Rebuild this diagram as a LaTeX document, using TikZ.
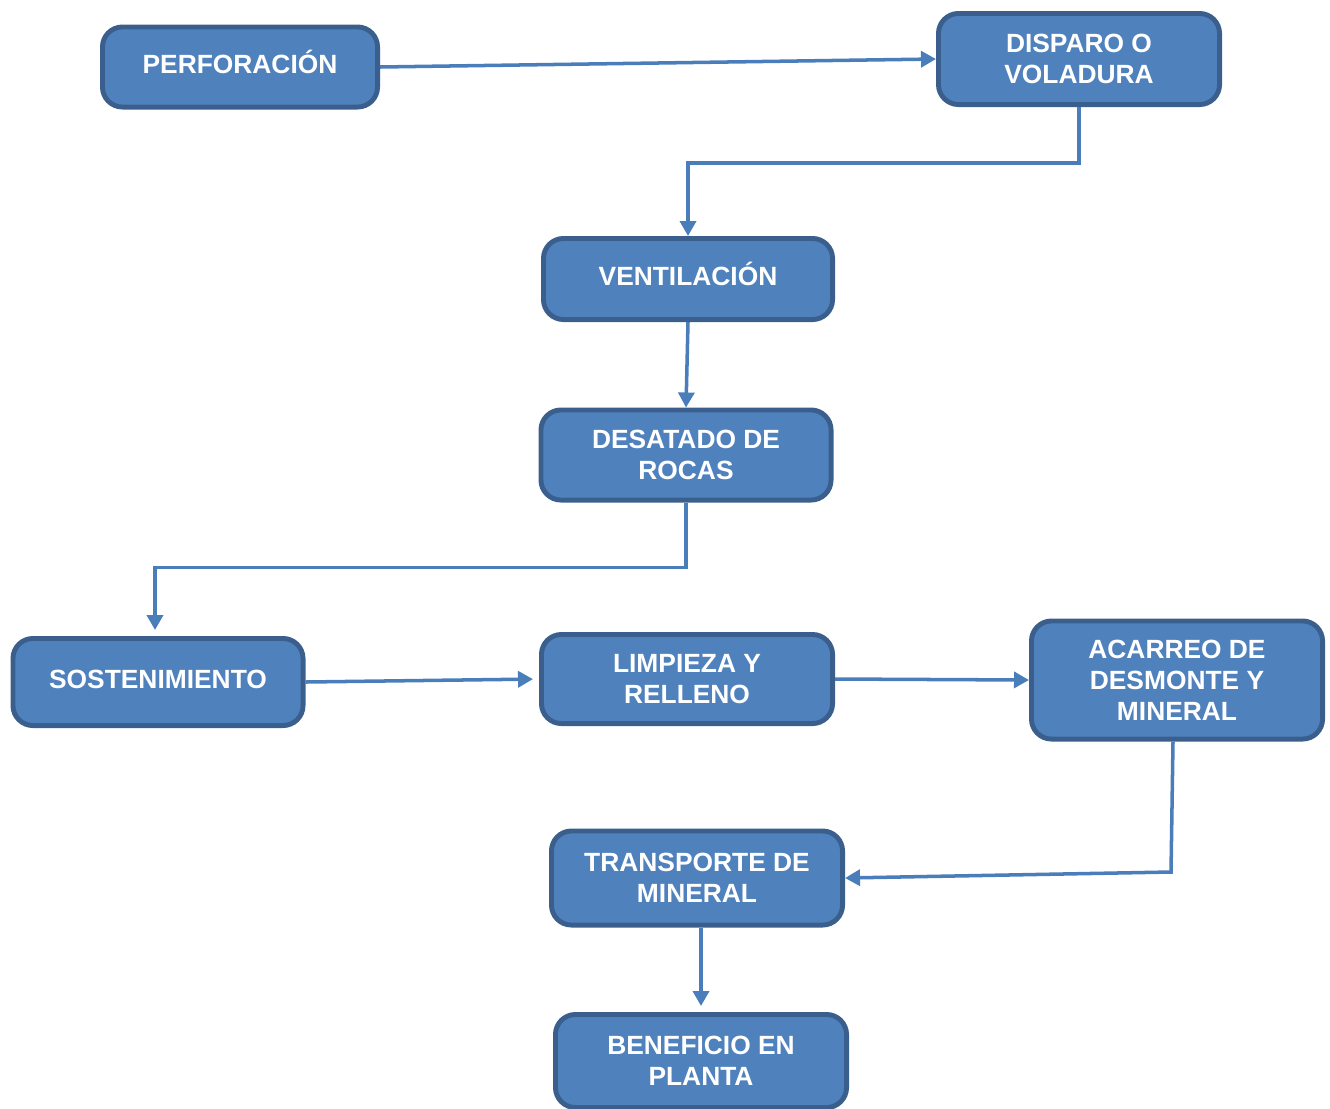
\documentclass[tikz,border=0pt]{standalone}
\usepackage{fontspec}
\setmainfont{Liberation Sans}
\usetikzlibrary{arrows.meta}
\definecolor{relleno}{HTML}{4F81BD}
\definecolor{borde}{HTML}{3A5F8D}
\definecolor{flecha}{HTML}{4A7EBB}
\tikzset{
  paso/.style={draw=borde,fill=relleno,line width=2.8pt,rounded corners=4mm,
    text=white,align=center,font=\fontsize{15}{17.6}\selectfont\bfseries},
  unalinea/.style={text height=1.38ex,text depth=0pt},
  flujo/.style={draw=flecha,line width=2pt,-{Triangle[length=3mm,width=3.2mm]}}
}
\begin{document}
\begin{tikzpicture}[x=0.2mm,y=-0.2mm]
      \useasboundingbox (0,0) rectangle (1330,1108);
      \foreach \nm/\cx/\cy/\w/\h/\op/\txt in {%
        perf/240/67/280/85/unalinea/{PERFORACIÓN},
        disp/1079/59/286/96//{DISPARO O\\VOLADURA},
        vent/688/279/294/86/unalinea/{VENTILACIÓN},
        desat/686/455/295/95//{DESATADO DE\\ROCAS},
        sost/158/682/295/92/unalinea/{SOSTENIMIENTO},
        limp/687/679/296/94//{LIMPIEZA Y\\RELLENO},
        acar/1177/680/296/123//{ACARREO DE\\DESMONTE Y\\MINERAL},
        trans/697/878/296/99//{TRANSPORTE DE\\MINERAL},
        benef/701/1061/296/98//{BENEFICIO EN\\PLANTA}}{%
          \node[paso,\op,minimum width=\w*0.2mm-2.8pt,minimum height=\h*0.2mm-2.8pt]
            (\nm) at (\cx,\cy) {\txt};
        }
      \coordinate (codo) at (1171,872);
      \draw[flujo] (perf.east) -- (disp.west);
      \draw[flujo] (disp.south) -- ++(0,56) -| (vent.north);
      \draw[flujo] (vent.south) -- (desat.north);
      \draw[flujo,shorten >=1.2mm] (desat.south) -- ++(0,65) -| ([xshift=-0.6mm]sost.north);
      \draw[flujo,shorten >=1.2mm] (sost.east) -- (limp.west);
      \draw[flujo] (limp.east) -- (acar.west);
      \draw[flujo] ([xshift=-0.8mm]acar.south) -- (codo) -- (trans.east);
      \draw[flujo,shorten >=1.2mm] (trans.south -| benef.north) -- (benef.north);
    \end{tikzpicture}
\end{document}
